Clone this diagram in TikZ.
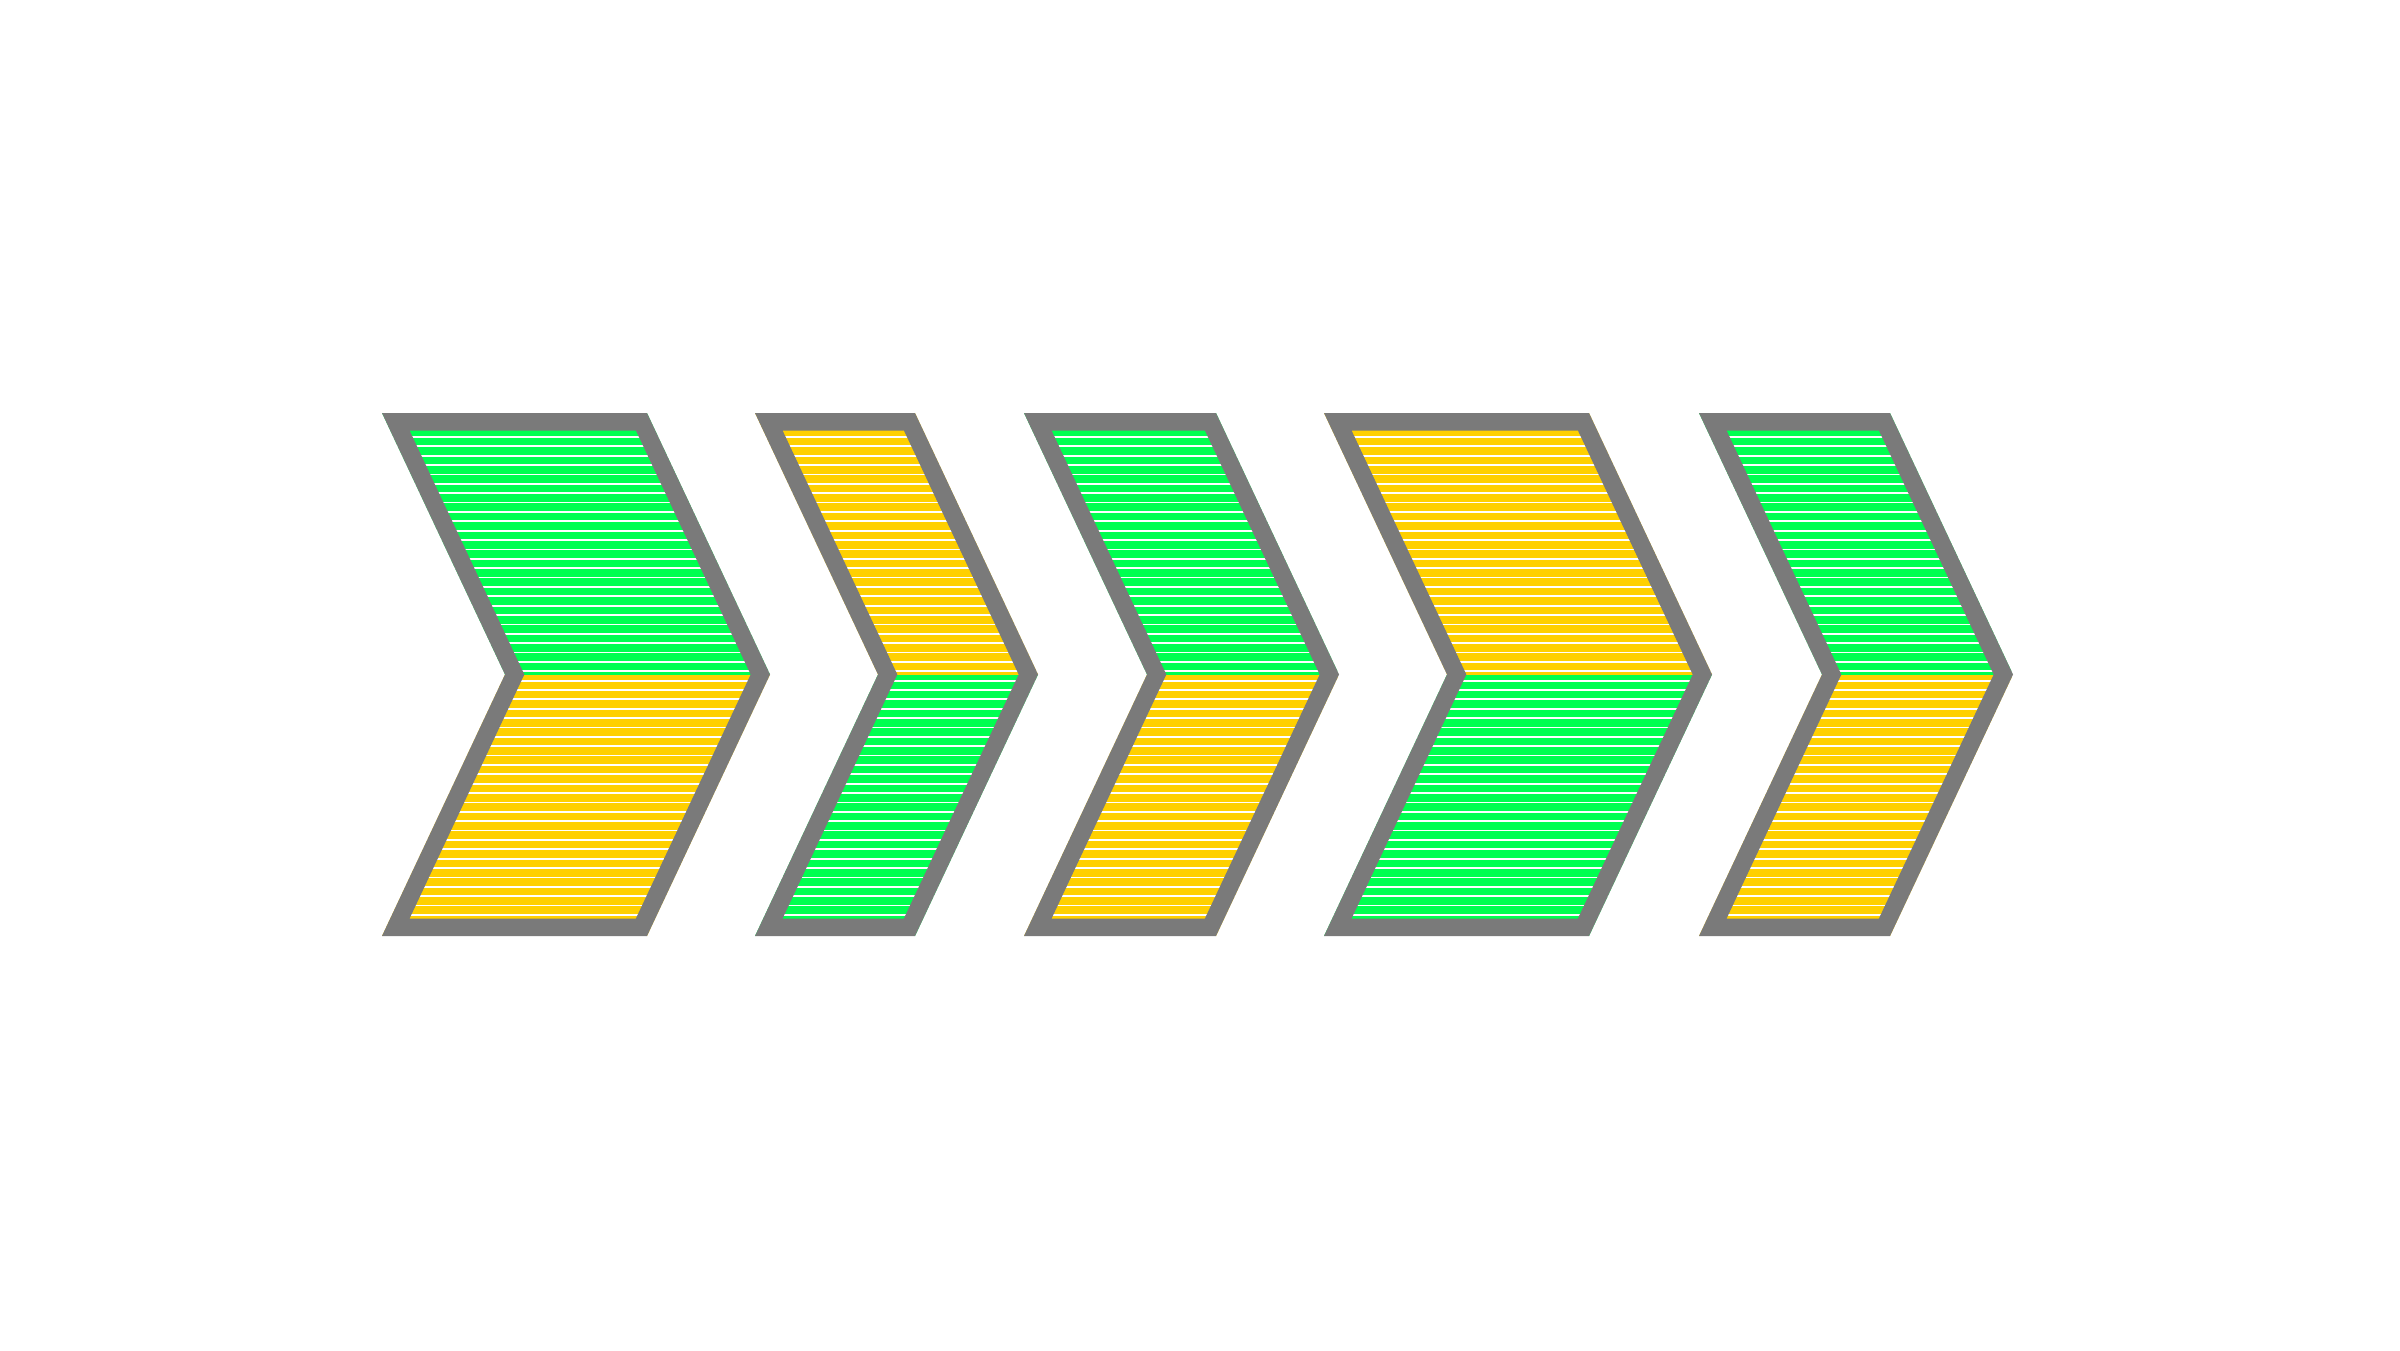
\documentclass[tikz,border=0pt]{standalone}
\definecolor{chevgreen}{RGB}{0,255,80}
\definecolor{chevyellow}{RGB}{255,208,0}
\definecolor{chevgray}{RGB}{122,122,122}
\tikzset{
  rim/.style={draw=chevgray, line width=3.5mm, line join=miter},
  stripe/.style={draw=white, line width=0.18mm},
}
\begin{document}
\begin{tikzpicture}[x=0.1mm,y=-0.1mm]
\fill[white] (0,0) rectangle (2400,1350);
\useasboundingbox (0,0) rectangle (2400,1350);
% chevron 1
\begin{scope}
\clip (382,413) -- (647,413) -- (770,674.5) -- (647,936) -- (382,936) -- (505,674.5) -- cycle;
\fill[chevgreen] (382,413) rectangle (770,674.5);
\fill[chevyellow] (382,674.5) rectangle (770,936);
\foreach \k in {0,...,51} \draw[stripe] (382,{437+\k*9.37}) -- (770,{437+\k*9.37});
\draw[rim] (382,413) -- (647,413) -- (770,674.5) -- (647,936) -- (382,936) -- (505,674.5) -- cycle;
\end{scope}
% chevron 2
\begin{scope}
\clip (755,413) -- (915,413) -- (1038,674.5) -- (915,936) -- (755,936) -- (878,674.5) -- cycle;
\fill[chevyellow] (755,413) rectangle (1038,674.5);
\fill[chevgreen] (755,674.5) rectangle (1038,936);
\foreach \k in {0,...,51} \draw[stripe] (755,{437+\k*9.37}) -- (1038,{437+\k*9.37});
\draw[rim] (755,413) -- (915,413) -- (1038,674.5) -- (915,936) -- (755,936) -- (878,674.5) -- cycle;
\end{scope}
% chevron 3
\begin{scope}
\clip (1024,413) -- (1216,413) -- (1339,674.5) -- (1216,936) -- (1024,936) -- (1147,674.5) -- cycle;
\fill[chevgreen] (1024,413) rectangle (1339,674.5);
\fill[chevyellow] (1024,674.5) rectangle (1339,936);
\foreach \k in {0,...,51} \draw[stripe] (1024,{437+\k*9.37}) -- (1339,{437+\k*9.37});
\draw[rim] (1024,413) -- (1216,413) -- (1339,674.5) -- (1216,936) -- (1024,936) -- (1147,674.5) -- cycle;
\end{scope}
% chevron 4
\begin{scope}
\clip (1324,413) -- (1589,413) -- (1712,674.5) -- (1589,936) -- (1324,936) -- (1447,674.5) -- cycle;
\fill[chevyellow] (1324,413) rectangle (1712,674.5);
\fill[chevgreen] (1324,674.5) rectangle (1712,936);
\foreach \k in {0,...,51} \draw[stripe] (1324,{437+\k*9.37}) -- (1712,{437+\k*9.37});
\draw[rim] (1324,413) -- (1589,413) -- (1712,674.5) -- (1589,936) -- (1324,936) -- (1447,674.5) -- cycle;
\end{scope}
% chevron 5
\begin{scope}
\clip (1699,413) -- (1890,413) -- (2013,674.5) -- (1890,936) -- (1699,936) -- (1822,674.5) -- cycle;
\fill[chevgreen] (1699,413) rectangle (2013,674.5);
\fill[chevyellow] (1699,674.5) rectangle (2013,936);
\foreach \k in {0,...,51} \draw[stripe] (1699,{437+\k*9.37}) -- (2013,{437+\k*9.37});
\draw[rim] (1699,413) -- (1890,413) -- (2013,674.5) -- (1890,936) -- (1699,936) -- (1822,674.5) -- cycle;
\end{scope}
\end{tikzpicture}
\end{document}
